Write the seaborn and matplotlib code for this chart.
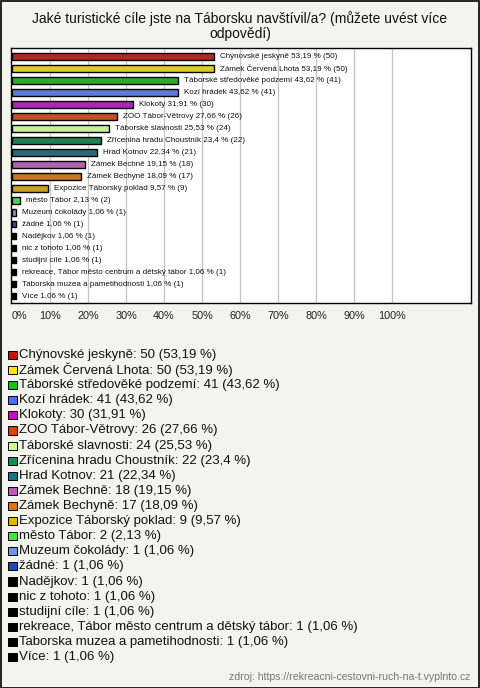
import matplotlib
matplotlib.use("Agg")
import matplotlib.pyplot as plt
import seaborn as sns
import pandas as pd

# --- data ---
answers = [
    "Chýnovské jeskyně", "Zámek Červená Lhota", "Táborské středověké podzemí",
    "Kozí hrádek", "Klokoty", "ZOO Tábor-Větrovy", "Táborské slavnosti",
    "Zřícenina hradu Choustník", "Hrad Kotnov", "Zámek Bechně", "Zámek Bechyně",
    "Expozice Táborský poklad", "město Tábor", "Muzeum čokolády", "žádné",
    "Nadějkov", "nic z tohoto", "studijní cíle",
    "rekreace, Tábor město centrum a dětský tábor",
    "Taborska muzea a pametihodnosti", "Více",
]
counts = [50, 50, 41, 41, 30, 26, 24, 22, 21, 18, 17, 9, 2, 1, 1, 1, 1, 1, 1, 1, 1]
percents = [53.19, 53.19, 43.62, 43.62, 31.91, 27.66, 25.53, 23.4, 22.34, 19.15,
            18.09, 9.57, 2.13, 1.06, 1.06, 1.06, 1.06, 1.06, 1.06, 1.06, 1.06]
colors = [
    "#c8120c", "#ffe600", "#14c214", "#4a6ef0", "#c40fc8", "#e2400c", "#ccff88",
    "#0f9155", "#187485", "#c056c0", "#e47408", "#e8b000", "#3ce63c", "#6a96e4",
    "#2248b8", "#000000", "#000000", "#000000", "#000000", "#000000", "#000000",
]
ticks = [0, 10, 20, 30, 40, 50, 60, 70, 80, 90, 100]

TITLE = "Jaké turistické cíle jste na Táborsku navštívil/a? (můžete uvést více\nodpovědí)"
SOURCE = "zdroj: https://rekreacni-cestovni-ruch-na-t.vyplnto.cz"


def fmt(p):
    s = f"{p:.2f}".rstrip("0").rstrip(".")
    return s.replace(".", ",")


df = pd.DataFrame({"answer": answers, "count": counts, "pct": percents})

sns.set_style("white")
plt.rcParams["font.family"] = ["Liberation Sans", "DejaVu Sans"]

W, H = 480, 688
BG = "#f4f4ee"
fig = plt.figure(figsize=(W / 100, H / 100), dpi=100, facecolor=BG)

# frame around the whole picture
fig.patches.append(plt.Rectangle((0.5 / W, 0.5 / H), 1 - 1.5 / W, 1 - 1.5 / H,
                                 transform=fig.transFigure, fill=False,
                                 edgecolor="black", linewidth=1.2))

fig.text(0.5, 1 - 26 / H, TITLE, ha="center", va="center", fontsize=10,
         linespacing=1.15, color="#111111")

# --- bar chart ---
ax_l, ax_r, ax_t, ax_b = 11, 471, 48, 303
ax = fig.add_axes([ax_l / W, 1 - ax_b / H, (ax_r - ax_l) / W, (ax_b - ax_t) / H])
ax.set_facecolor("white")
n = len(answers)
sns.barplot(data=df, y="answer", x="pct", hue="answer", palette=colors,
            legend=False, orient="h", width=0.55, edgecolor="black",
            linewidth=1.0, ax=ax, zorder=3)
# pixel to % scale: 0% at x=12, 10% steps of 38 px
ax.set_xlim(-1 / 3.8, (ax_r - 12) / 3.8)
ax.set_ylim(n - 1 + 0.58, -0.71)
for x in ticks[1:]:
    ax.axvline(x, color="#c4c4c4", linewidth=0.9, zorder=1)
for i, (name, c, p) in enumerate(zip(answers, counts, percents)):
    ax.text(p + 1.6, i, f"{name} {fmt(p)} % ({c})", va="center", ha="left",
            fontsize=5.8, color="#111111", zorder=4)
ax.set_xticks(ticks)
ax.set_xticklabels([f"{t}%" for t in ticks], fontsize=7.8, color="#222222")
ax.get_xticklabels()[0].set_ha("left")
ax.tick_params(axis="x", length=0, pad=6)
ax.set_yticks([])
ax.set_xlabel("")
ax.set_ylabel("")
for s in ax.spines.values():
    s.set_visible(True)
    s.set_color("black")
    s.set_linewidth(1.0)

# --- legend list below ---
y0, step = 355, 15.1
lg = fig.add_axes([0, 1 - (y0 + step * (n - 0.5)) / H, 1, step * n / H])
sns.scatterplot(x=[12.5] * n, y=list(range(n)), hue=answers, palette=colors,
                legend=False, marker="s", s=34, edgecolor="black",
                linewidth=0.7, ax=lg)
for i, (name, c, p) in enumerate(zip(answers, counts, percents)):
    lg.text(19, i, f"{name}: {c} ({fmt(p)} %)", va="center", ha="left",
            fontsize=9.5, color="#111111")
lg.set_xlim(0, W)
lg.set_ylim(n - 0.5, -0.5)
lg.axis("off")

fig.text(1 - 10 / W, 1 - 677 / H, SOURCE, ha="right", va="center",
         fontsize=7.6, color="#777777")

fig.savefig("out.png", dpi=100, facecolor=BG)
